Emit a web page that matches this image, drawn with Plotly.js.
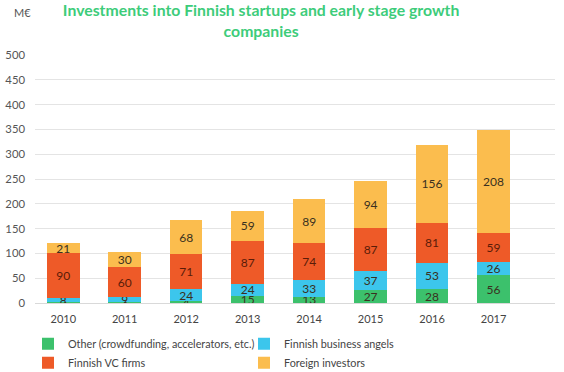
<!DOCTYPE html>
<html>
<head>
<meta charset="utf-8">
<script src="https://cdn.plot.ly/plotly-3.0.1.min.js"></script>
<style>html,body{margin:0;padding:0;background:#fff;}#chart{width:564px;height:372px;}</style>
</head>
<body>
<div id="chart"></div>
<script>
const years = ["2010","2011","2012","2013","2014","2015","2016","2017"];
const other = [2, 3, 4, 15, 13, 27, 28, 56];
const angels = [8, 9, 24, 24, 33, 37, 53, 26];
const vcFirms = [90, 60, 71, 87, 74, 87, 81, 59];
const foreign = [21, 30, 68, 59, 89, 94, 156, 208];
const seriesNames = ["Other (crowdfunding, accelerators, etc.)", "Finnish business angels", "Finnish VC firms", "Foreign investors"];
const colors = ["#3cc16c", "#3cc6ec", "#ee5a28", "#fbbd4e"];
const legendIds = ["legend", "legend2", "legend", "legend2"];
const yTicks = [0, 50, 100, 150, 200, 250, 300, 350, 400, 450, 500];

const FONT = "Lato, 'Open Sans', sans-serif";
const data = [other, angels, vcFirms, foreign].map((vals, i) => ({
  type: "bar",
  name: seriesNames[i],
  legend: legendIds[i],
  x: years,
  y: vals,
  text: vals.map(String),
  textposition: "inside",
  insidetextanchor: "middle",
  constraintext: "none",
  textangle: 0,
  textfont: {family: FONT, size: 12, color: i === 2 ? "#5a1c08" : "#3a3020"},
  marker: {color: colors[i]},
  hoverinfo: "none"
}));

const legendBase = {
  orientation: "v",
  yref: "container", y: 0.115, yanchor: "top",
  xref: "container", xanchor: "left",
  traceorder: "normal",
  font: {family: FONT, size: 10.8, color: "#444"},
  itemwidth: 30,
  tracegroupgap: 0,
  bgcolor: "rgba(0,0,0,0)"
};

const layout = {
  width: 564, height: 372,
  margin: {l: 35, r: 9, t: 55, b: 69, autoexpand: false},
  barmode: "stack",
  bargap: 0.47,
  paper_bgcolor: "#fff",
  plot_bgcolor: "#fff",
  font: {family: FONT, color: "#555", size: 11},
  showlegend: true,
  title: {
    text: "<b>Investments into Finnish startups and early stage growth<br>companies</b>",
    font: {family: FONT, size: 15.8, color: "#3dcc7a"},
    x: 0.463, xanchor: "center", yref: "container", y: 0.957, yanchor: "middle"
  },
  xaxis: {
    type: "category",
    range: [-0.46, 8.0],
    showgrid: false,
    showline: false,
    zeroline: false,
    ticks: "",
    ticklabelstandoff: 8,
    tickfont: {family: FONT, size: 11, color: "#444"}
  },
  yaxis: {
    range: [0, 500],
    tickvals: yTicks,
    showgrid: true,
    gridcolor: "#e4e4e4",
    gridwidth: 1,
    zeroline: true,
    zerolinecolor: "#d9d9d9",
    ticks: "",
    tickfont: {family: FONT, size: 11.3, color: "#555"},
    ticklabelstandoff: 9
  },
  legend: Object.assign({}, legendBase, {x: 28 / 564}),
  legend2: Object.assign({}, legendBase, {x: 244 / 564}),
  annotations: [{
    text: "M€", xref: "paper", yref: "paper", x: -0.045, y: 1.17,
    xanchor: "left", yanchor: "middle", showarrow: false,
    font: {family: FONT, size: 11, color: "#555"}
  }]
};

Plotly.newPlot("chart", data, layout, {displayModeBar: false, staticPlot: true});
</script>
</body>
</html>
